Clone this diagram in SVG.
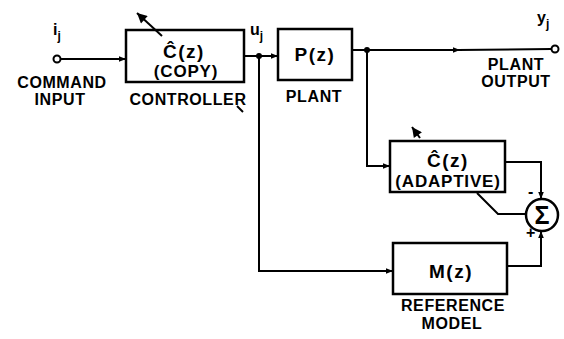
<svg xmlns="http://www.w3.org/2000/svg" width="564" height="339" viewBox="0 0 564 339">
<style>
.box{fill:none;stroke:#000;stroke-width:2.5}
.ln{fill:none;stroke:#000;stroke-width:2}
.t{font-family:"Liberation Sans",Arial,sans-serif;font-weight:bold;font-size:16px;fill:#000;text-anchor:middle;letter-spacing:0.6px}
.s{font-family:"Liberation Sans",Arial,sans-serif;font-weight:bold;font-size:16px;fill:#000}
.sub{font-size:12px}
.f19{font-size:19px;letter-spacing:1.5px}
.f17{font-size:17px;letter-spacing:0.8px}
</style>
<defs>
<marker id="ah" viewBox="0 0 10 10" refX="10" refY="5" markerWidth="9" markerHeight="7" orient="auto" markerUnits="userSpaceOnUse">
<path d="M0,1 L10,5 L0,9 Z" fill="#000"/>
</marker>
<marker id="ad" viewBox="0 0 10 10" refX="10" refY="5" markerWidth="12" markerHeight="10" orient="auto" markerUnits="userSpaceOnUse">
<path d="M0,0 L10,5 L0,10 Z" fill="#000"/>
</marker>
</defs>
<rect width="564" height="339" fill="#fff"/>
<g id="connectors">
<line class="ln" x1="61" y1="59" x2="126" y2="59" marker-end="url(#ah)"/>
<line class="ln" x1="244" y1="56" x2="278" y2="56" marker-end="url(#ah)"/>
<line class="ln" x1="352" y1="50" x2="460" y2="50" marker-end="url(#ah)"/>
<line class="ln" x1="458" y1="50" x2="551" y2="49"/>
<polyline class="ln" points="367,50 367,166 390,166" marker-end="url(#ah)"/>
<polyline class="ln" points="259,56 259,271 393,271" marker-end="url(#ah)"/>
<polyline class="ln" points="505,162 541,162 541,199" marker-end="url(#ah)"/>
<polyline class="ln" points="507,266 541,266 541,231" marker-end="url(#ah)"/>
<polyline class="ln" points="526,214 498,214 477,193"/>
<line class="ln" x1="162" y1="36" x2="137" y2="13" marker-end="url(#ad)"/>
<line class="ln" x1="237" y1="106" x2="243" y2="112"/>
<line class="ln" x1="420" y1="138" x2="412" y2="127" marker-end="url(#ad)"/>
<circle cx="259" cy="56" r="3" fill="#000"/>
<circle cx="367" cy="50" r="3" fill="#000"/>
</g>
<g id="input">
<circle cx="57" cy="59" r="3.5" fill="#fff" stroke="#000" stroke-width="2"/>
<text class="s" x="53" y="35">i<tspan class="sub" dy="5">j</tspan></text>
<text class="t" x="62" y="88">COMMAND</text>
<text class="t" x="60" y="105">INPUT</text>
</g>
<g id="controller">
<rect class="box" x="126" y="30" width="118" height="52"/>
<text class="t f19" x="184" y="58">Ĉ(z)</text>
<text class="t f17" x="186" y="77">(COPY)</text>
<text class="t" x="188" y="105">CONTROLLER</text>
</g>
<text class="s" x="250" y="35">u<tspan class="sub" dy="5">j</tspan></text>
<g id="plant">
<rect class="box" x="278" y="29" width="74" height="51"/>
<text class="t f19" x="315" y="61">P(z)</text>
<text class="t" x="314" y="102">PLANT</text>
</g>
<g id="output">
<circle cx="555" cy="49" r="3.5" fill="#fff" stroke="#000" stroke-width="2"/>
<text class="s" x="537" y="23">y<tspan class="sub" dy="5">j</tspan></text>
<text class="t" x="516" y="70">PLANT</text>
<text class="t" x="516" y="87">OUTPUT</text>
</g>
<g id="adaptive">
<rect class="box" x="390" y="141" width="115" height="51"/>
<text class="t f19" x="448" y="167">Ĉ(z)</text>
<text class="t f17" x="448" y="187">(ADAPTIVE)</text>
</g>
<g id="sum">
<circle cx="542" cy="215" r="16" fill="#fff" stroke="#000" stroke-width="2.5"/>
<text class="t" x="542" y="224" style="font-size:25px;letter-spacing:0">Σ</text>
<text class="s" x="528" y="197">-</text>
<text class="s" x="526" y="238">+</text>
</g>
<g id="model">
<rect class="box" x="393" y="243" width="114" height="51"/>
<text class="t f19" x="451" y="278">M(z)</text>
<text class="t" x="453" y="311">REFERENCE</text>
<text class="t" x="452" y="329">MODEL</text>
</g>
</svg>
